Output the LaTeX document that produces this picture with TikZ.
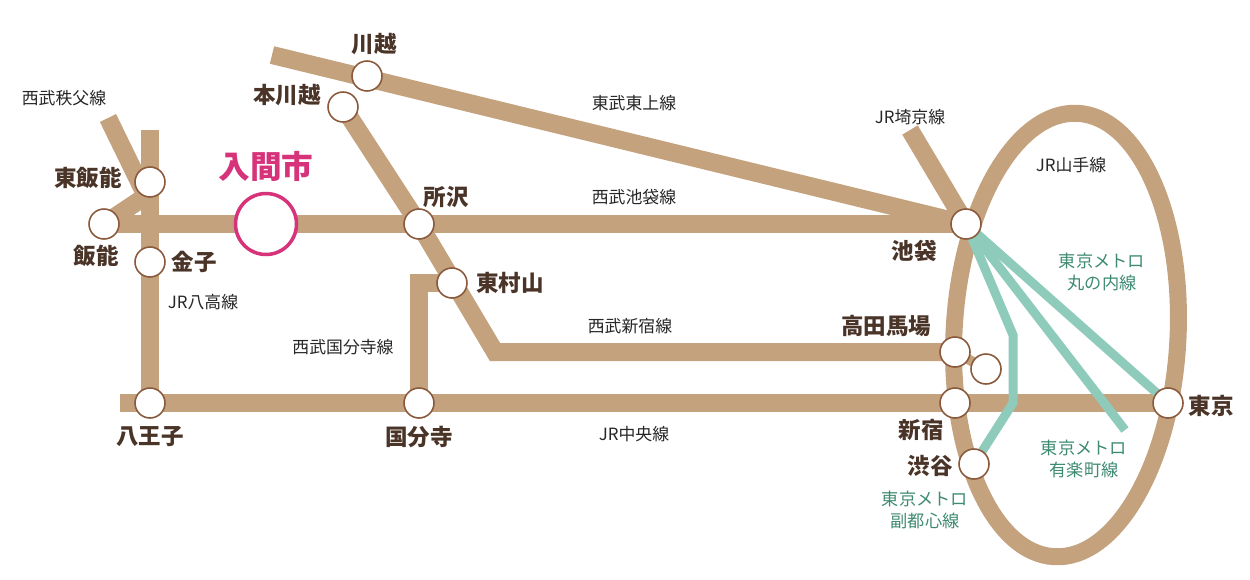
\documentclass[tikz,border=0pt]{standalone}
\usepackage{fontspec}
\setmainfont{Noto Sans CJK JP}
\usetikzlibrary{positioning}
\definecolor{railbrown}{HTML}{C4A27E}
\definecolor{metrogreen}{HTML}{8FCBBB}
\definecolor{textbrown}{HTML}{4A3428}
\definecolor{ringbrown}{HTML}{8B5A3C}
\definecolor{metrotext}{HTML}{3E8A72}
\definecolor{irumapink}{HTML}{D6337A}
\tikzstyle{rail} = [line width=0.36cm, railbrown]
\tikzstyle{metro} = [line width=0.18cm, metrogreen]
\tikzstyle{station} = [circle, draw=ringbrown, line width=0.9pt, fill=white, minimum size=0.6cm, inner sep=0pt]
\tikzstyle{stname} = [font=\fontsize{12.8}{14}\selectfont\bfseries, text=textbrown]
\tikzstyle{linename} = [font=\fontsize{9.6}{11}\selectfont, text=black!85]
\tikzstyle{metroname} = [font=\fontsize{9.8}{12.5}\selectfont, text=metrotext, align=center]

\begin{document}
\begin{tikzpicture}[x=0.02cm, y=-0.02cm]
        \useasboundingbox (0,0) rectangle (1250,579);
        % junctions
        \coordinate (chichibu) at (108,118);
        \coordinate (hachikotop) at (150,130);
        \coordinate (fork) at (146,196);
        \coordinate (tojotop) at (272,55);
        \coordinate (bend) at (495,352);
        \coordinate (kokubunjitop) at (419,283);
        \coordinate (chuoend) at (120,403);
        \coordinate (saikyo) at (910,130);
        \coordinate (mbend) at (1013,335);
        \coordinate (mfoot) at (1013,403);
        \coordinate (yurakucho) at (1125,430);
        % Yamanote
        \draw [rail, line width=0.34cm] (1066,335) ellipse [x radius=112, y radius=222, rotate=-3];
        % lines
        \draw [rail] (chichibu) -- (fork) -- (104,224);
        \draw [rail] (hachikotop) -- (150,403);
        \draw [rail] (104,224) -- (966,224);
        \draw [rail] (tojotop) -- (966,224);
        \draw [rail] (343,107) -- (419,224) -- (bend) -- (955,352);
        \draw [rail] (419,403) -- (kokubunjitop) -- (452,283);
        \draw [rail] (chuoend) -- (1168,403);
        \draw [rail] (saikyo) -- (966,224);
        \draw [rail, line width=0.2cm] (955,352) -- (986,369);
        \draw [metro] (966,224) -- (1168,403);
        \draw [metro] (966,224) -- (yurakucho);
        \draw [metro] (966,224) -- (mbend) -- (mfoot) -- (974,464);
        % stations
        \node (higashihanno) [station] at (150,182) {};
        \node (hanno) [station] at (104,224) {};
        \node (kaneko) [station] at (150,262) {};
        \node (iruma) [circle, draw=irumapink, line width=2pt, fill=white, minimum size=1.22cm] at (266,224) {};
        \node (kawagoe) [station] at (367,76) {};
        \node (honkawagoe) [station] at (343,107) {};
        \node (tokorozawa) [station] at (419,224) {};
        \node (higashimurayama) [station] at (452,283) {};
        \node (hachioji) [station] at (150,403) {};
        \node (kokubunji) [station] at (419,403) {};
        \node (ikebukuro) [station] at (966,224) {};
        \node (takadanobaba) [station] at (955,352) {};
        \node (babaextra) [station] at (986,369) {};
        \node (shinjuku) [station] at (955,403) {};
        \node (shibuya) [station] at (974,464) {};
        \node (tokyo) [station] at (1168,403) {};
        % station names
        \node [stname] at (88,178) {東飯能};
        \node [stname] at (96,256) {飯能};
        \node [stname] at (194,262) {金子};
        \node [stname, text=irumapink, font=\fontsize{18}{20}\selectfont\bfseries] at (266,166) {入間市};
        \node [stname] at (287,95) {本川越};
        \node [stname] at (374,44) {川越};
        \node [stname] at (446,197) {所沢};
        \node [stname] at (510,283) {東村山};
        \node [stname] at (150,437) {八王子};
        \node [stname] at (419,437) {国分寺};
        \node [stname] at (914,251) {池袋};
        \node [stname] at (886,326) {高田馬場};
        \node [stname] at (921,430) {新宿};
        \node [stname] at (930,466) {渋谷};
        \node [stname] at (1211,406) {東京};
        % line names
        \node [linename] at (64,98) {西武秩父線};
        \node [linename] at (203,302) {JR八高線};
        \node [linename] at (634,103) {東武東上線};
        \node [linename] at (634,197) {西武池袋線};
        \node [linename] at (630,326) {西武新宿線};
        \node [linename] at (343,347) {西武国分寺線};
        \node [linename] at (634,434) {JR中央線};
        \node [linename] at (910,117) {JR埼京線};
        \node [linename] at (1071,165) {JR山手線};
        \node [metroname] at (1102,272) {東京メトロ\\丸の内線};
        \node [metroname] at (1084,459) {東京メトロ\\有楽町線};
        \node [metroname] at (925,510) {東京メトロ\\副都心線};
    \end{tikzpicture}
\end{document}
